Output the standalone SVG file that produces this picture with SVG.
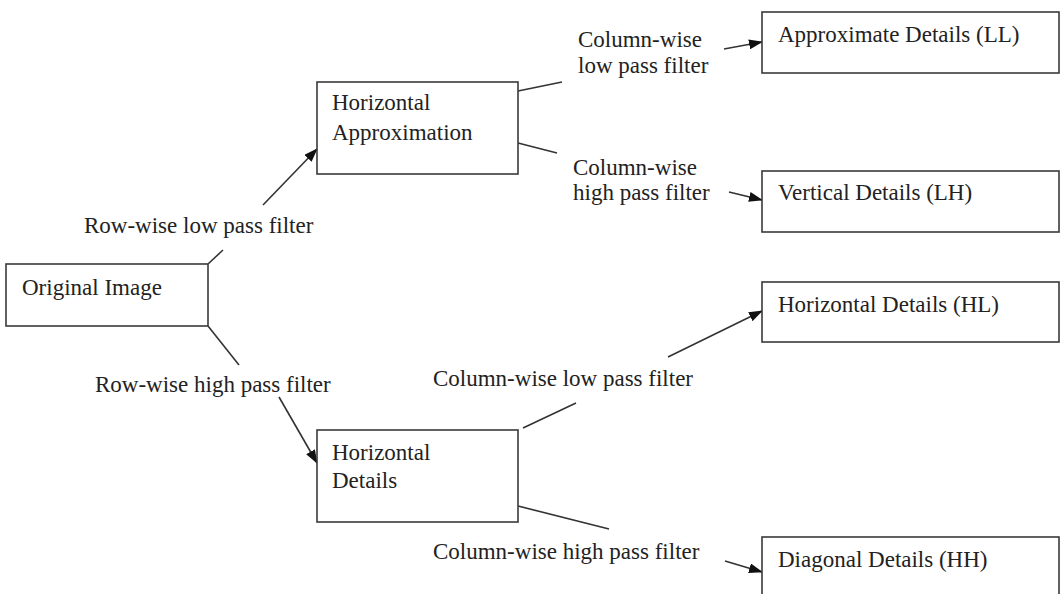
<svg xmlns="http://www.w3.org/2000/svg" width="1062" height="594" viewBox="0 0 1062 594">
<style>
.box{fill:#fff;stroke:#3a3a3a;stroke-width:1.6}
.t{font-family:"Liberation Serif","Times New Roman",serif;font-size:23px;fill:#222}
.ln{stroke:#333;stroke-width:1.6;fill:none}
</style>
<defs>
<marker id="ah" markerUnits="userSpaceOnUse" markerWidth="14" markerHeight="10" refX="13" refY="5" orient="auto">
<path d="M0,0 L14,5 L0,10 Z" fill="#111"/>
</marker>
</defs>
<rect width="1062" height="594" fill="#fff"/>
<g id="connectors">
<line class="ln" x1="208" y1="264" x2="223" y2="250"/>
<line class="ln" x1="208" y1="326" x2="239" y2="365"/>
<line class="ln" x1="518" y1="91" x2="562" y2="82"/>
<line class="ln" x1="518" y1="143" x2="557" y2="153"/>
<line class="ln" x1="523" y1="428" x2="576" y2="403"/>
<line class="ln" x1="518" y1="506" x2="609" y2="529"/>
<line class="ln" x1="263" y1="205" x2="317" y2="149" marker-end="url(#ah)"/>
<line class="ln" x1="279" y1="397" x2="317" y2="463" marker-end="url(#ah)"/>
<line class="ln" x1="724" y1="49" x2="762" y2="42" marker-end="url(#ah)"/>
<line class="ln" x1="729" y1="192" x2="762" y2="200" marker-end="url(#ah)"/>
<line class="ln" x1="668" y1="357" x2="762" y2="311" marker-end="url(#ah)"/>
<line class="ln" x1="725" y1="561" x2="762" y2="572" marker-end="url(#ah)"/>
</g>
<g id="labels">
<text class="t" x="84" y="233">Row-wise low pass filter</text>
<text class="t" x="95" y="392">Row-wise high pass filter</text>
<text class="t" x="578" y="47">Column-wise</text>
<text class="t" x="578" y="73">low pass filter</text>
<text class="t" x="573" y="175">Column-wise</text>
<text class="t" x="573" y="200">high pass filter</text>
<text class="t" x="433" y="386">Column-wise low pass filter</text>
<text class="t" x="433" y="559">Column-wise high pass filter</text>
</g>
<g id="original">
<rect class="box" x="6" y="264" width="202" height="62"/>
<text class="t" x="22" y="295">Original Image</text>
</g>
<g id="horiz-approx">
<rect class="box" x="317" y="82" width="201" height="92"/>
<text class="t" x="332" y="110">Horizontal</text>
<text class="t" x="332" y="140">Approximation</text>
</g>
<g id="horiz-details">
<rect class="box" x="317" y="430" width="201" height="92"/>
<text class="t" x="332" y="460">Horizontal</text>
<text class="t" x="332" y="488">Details</text>
</g>
<g id="ll">
<rect class="box" x="762" y="12" width="297" height="61"/>
<text class="t" x="778" y="42">Approximate Details (LL)</text>
</g>
<g id="lh">
<rect class="box" x="762" y="171" width="297" height="61"/>
<text class="t" x="778" y="200">Vertical Details (LH)</text>
</g>
<g id="hl">
<rect class="box" x="762" y="282" width="297" height="60"/>
<text class="t" x="778" y="312">Horizontal Details (HL)</text>
</g>
<g id="hh">
<rect class="box" x="762" y="537" width="297" height="62"/>
<text class="t" x="778" y="567">Diagonal Details (HH)</text>
</g>
</svg>
